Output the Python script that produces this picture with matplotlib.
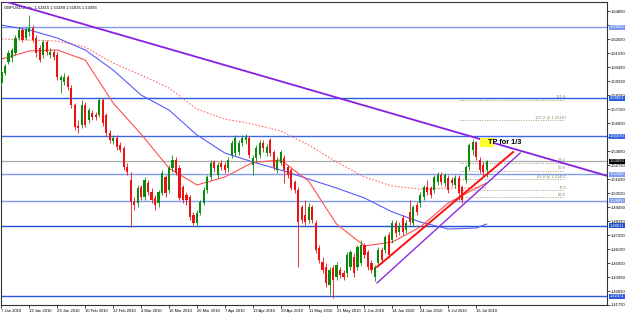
import matplotlib
matplotlib.use("Agg")
import matplotlib.pyplot as plt
import numpy as np

# GBPUSD daily bars, 7 Jan 2010 .. 21 Jul 2010 (one bar per weekday)
date_labels = ["7 Jan 2010", "19 Jan 2010", "29 Jan 2010", "10 Feb 2010", "22 Feb 2010",
               "4 Mar 2010", "16 Mar 2010", "26 Mar 2010", "7 Apr 2010", "19 Apr 2010",
               "29 Apr 2010", "11 May 2010", "21 May 2010", "2 Jun 2010", "14 Jun 2010",
               "24 Jun 2010", "6 Jul 2010", "16 Jul 2010"]
label_bars = [0, 8, 16, 24, 32, 40, 48, 56, 64, 72, 80, 88, 96, 104, 112, 120, 128, 136]

opens = [1.5923, 1.6002, 1.6088, 1.6120, 1.6159, 1.6277, 1.6340, 1.6277, 1.6324, 1.6355,
         1.6277, 1.6198, 1.6143, 1.6245, 1.6143, 1.6167, 1.6143, 1.5947, 1.5931, 1.5970,
         1.5884, 1.5750, 1.5585, 1.5593, 1.5750, 1.5633, 1.5688, 1.5672, 1.5672, 1.5790,
         1.5672, 1.5530, 1.5467, 1.5491, 1.5436, 1.5412, 1.5263, 1.5161, 1.4988, 1.4980,
         1.5106, 1.5028, 1.5138, 1.5067, 1.5020, 1.4980, 1.5059, 1.5185, 1.5083, 1.5255,
         1.5318, 1.5255, 1.5106, 1.5043, 1.5028, 1.4886, 1.4823, 1.4902, 1.4980, 1.5083,
         1.5185, 1.5303, 1.5200, 1.5295, 1.5279, 1.5255, 1.5358, 1.5373, 1.5381, 1.5452,
         1.5475, 1.5491, 1.5279, 1.5334, 1.5358, 1.5452, 1.5373, 1.5475, 1.5381, 1.5240,
         1.5295, 1.5334, 1.5263, 1.5240, 1.5145, 1.5083, 1.4949, 1.4886, 1.4847, 1.4949,
         1.4823, 1.4627, 1.4517, 1.4478, 1.4336, 1.4470, 1.4399, 1.4454, 1.4430, 1.4430,
         1.4478, 1.4556, 1.4478, 1.4509, 1.4650, 1.4595, 1.4509, 1.4399, 1.4509, 1.4611,
         1.4611, 1.4729, 1.4690, 1.4823, 1.4753, 1.4862, 1.4768, 1.4910, 1.4823, 1.4965,
         1.4980, 1.5028, 1.5106, 1.5098, 1.5083, 1.5145, 1.5200, 1.5138, 1.5177, 1.5161,
         1.5122, 1.5177, 1.5106, 1.5161, 1.5263, 1.5397, 1.5460, 1.5318, 1.5279, 1.52415]
highs = [1.6041, 1.6073, 1.6183, 1.6198, 1.6300, 1.6363, 1.6355, 1.6363, 1.6458, 1.6379,
         1.6300, 1.6222, 1.6261, 1.6261, 1.6198, 1.6183, 1.6167, 1.5986, 1.6002, 1.5986,
         1.5908, 1.5766, 1.5633, 1.5790, 1.5774, 1.5727, 1.5711, 1.5695, 1.5805, 1.5805,
         1.5688, 1.5554, 1.5515, 1.5515, 1.5460, 1.5428, 1.5295, 1.5224, 1.5028, 1.5122,
         1.5122, 1.5185, 1.5161, 1.5098, 1.5043, 1.5083, 1.5240, 1.5200, 1.5279, 1.5358,
         1.5342, 1.5279, 1.5122, 1.5067, 1.5043, 1.4910, 1.4925, 1.5004, 1.5106, 1.5200,
         1.5318, 1.5318, 1.5303, 1.5318, 1.5303, 1.5342, 1.5475, 1.5515, 1.5475, 1.5515,
         1.5522, 1.5507, 1.5358, 1.5436, 1.5475, 1.5475, 1.5444, 1.5491, 1.5397, 1.5342,
         1.5397, 1.5358, 1.5279, 1.5255, 1.5161, 1.5106, 1.4965, 1.5004, 1.4980, 1.4965,
         1.4847, 1.4650, 1.4556, 1.4509, 1.4478, 1.4493, 1.4517, 1.4478, 1.4454, 1.4595,
         1.4611, 1.4587, 1.4650, 1.4690, 1.4666, 1.4611, 1.4533, 1.4493, 1.4635, 1.4635,
         1.4729, 1.4753, 1.4847, 1.4847, 1.4831, 1.4886, 1.4847, 1.5004, 1.4965, 1.4988,
         1.5067, 1.5122, 1.5161, 1.5114, 1.5200, 1.5224, 1.5224, 1.5216, 1.5200, 1.5185,
         1.5200, 1.5200, 1.5122, 1.5279, 1.5452, 1.5483, 1.5467, 1.5342, 1.5303, 1.53189]
lows = [1.5900, 1.5986, 1.6073, 1.6088, 1.6143, 1.6261, 1.6245, 1.6261, 1.6292, 1.6245,
        1.6128, 1.6088, 1.6120, 1.6143, 1.6120, 1.6104, 1.5947, 1.5845, 1.5908, 1.5868,
        1.5727, 1.5554, 1.5530, 1.5570, 1.5578, 1.5609, 1.5633, 1.5633, 1.5656, 1.5585,
        1.5507, 1.5452, 1.5444, 1.5397, 1.5381, 1.5240, 1.5200, 1.4792, 1.4925, 1.4949,
        1.5004, 1.5004, 1.5043, 1.4980, 1.4925, 1.4949, 1.5043, 1.5028, 1.5059, 1.5224,
        1.5200, 1.5004, 1.4980, 1.4965, 1.4847, 1.4808, 1.4800, 1.4886, 1.4965, 1.5059,
        1.5161, 1.5224, 1.5177, 1.5240, 1.5216, 1.5224, 1.5334, 1.5350, 1.5358, 1.5428,
        1.5444, 1.5334, 1.5200, 1.5303, 1.5334, 1.5381, 1.5350, 1.5350, 1.5240, 1.5216,
        1.5279, 1.5138, 1.5177, 1.5083, 1.5059, 1.4478, 1.4823, 1.4808, 1.4823, 1.4823,
        1.4587, 1.4509, 1.4430, 1.4320, 1.4258, 1.4234, 1.4375, 1.4391, 1.4375, 1.4399,
        1.4454, 1.4399, 1.4454, 1.4493, 1.4548, 1.4454, 1.4430, 1.4368, 1.4493, 1.4509,
        1.4587, 1.4548, 1.4666, 1.4713, 1.4729, 1.4729, 1.4745, 1.4808, 1.4800, 1.4886,
        1.4949, 1.5004, 1.5043, 1.5020, 1.5059, 1.5122, 1.5122, 1.5114, 1.5059, 1.5114,
        1.5098, 1.5004, 1.4980, 1.5138, 1.5240, 1.5358, 1.5318, 1.5216, 1.5185, 1.51836]
closes = [1.6010, 1.6057, 1.6159, 1.6183, 1.6277, 1.6340, 1.6261, 1.6340, 1.6355, 1.6261,
          1.6159, 1.6104, 1.6245, 1.6167, 1.6167, 1.6128, 1.5970, 1.5970, 1.5970, 1.5892,
          1.5750, 1.5578, 1.5570, 1.5750, 1.5593, 1.5711, 1.5656, 1.5656, 1.5790, 1.5609,
          1.5530, 1.5475, 1.5491, 1.5420, 1.5397, 1.5263, 1.5224, 1.4988, 1.4965, 1.5098,
          1.5028, 1.5161, 1.5067, 1.5004, 1.4965, 1.5067, 1.5216, 1.5059, 1.5255, 1.5318,
          1.5216, 1.5020, 1.5004, 1.5004, 1.4870, 1.4823, 1.4902, 1.4988, 1.5083, 1.5185,
          1.5295, 1.5255, 1.5279, 1.5263, 1.5240, 1.5318, 1.5452, 1.5491, 1.5452, 1.5491,
          1.5499, 1.5358, 1.5334, 1.5412, 1.5452, 1.5412, 1.5420, 1.5373, 1.5263, 1.5318,
          1.5381, 1.5240, 1.5200, 1.5098, 1.5083, 1.4831, 1.4847, 1.4831, 1.4949, 1.4847,
          1.4611, 1.4533, 1.4454, 1.4352, 1.4454, 1.4375, 1.4493, 1.4415, 1.4399, 1.4572,
          1.4595, 1.4430, 1.4635, 1.4650, 1.4572, 1.4478, 1.4454, 1.4478, 1.4611, 1.4533,
          1.4713, 1.4572, 1.4823, 1.4745, 1.4800, 1.4753, 1.4823, 1.4831, 1.4949, 1.4910,
          1.5043, 1.5106, 1.5067, 1.5043, 1.5185, 1.5200, 1.5145, 1.5200, 1.5083, 1.5138,
          1.5177, 1.5059, 1.5004, 1.5263, 1.5436, 1.5460, 1.5342, 1.5240, 1.5224, 1.53093]

# moving averages, every 8th bar
ma_bars = [0, 8, 16, 24, 32, 40, 48, 56, 64, 72, 80, 88, 96, 104, 112, 120, 128, 136, 139]
ma_fast = [1.6112, 1.6175, 1.6183, 1.6104, 1.5766, 1.5522, 1.5255, 1.5122, 1.5185, 1.5299,
           1.5318, 1.5153, 1.4815, 1.4643, 1.4674, 1.4792, 1.4980, 1.5098, 1.5138]
ma_mid = [1.6379, 1.6340, 1.6277, 1.6183, 1.6025, 1.5829, 1.5711, 1.5515, 1.5373, 1.5303,
          1.5240, 1.5169, 1.5098, 1.5020, 1.4910, 1.4831, 1.4776, 1.4784, 1.4815]
ma_slow = [1.6269, 1.6261, 1.6253, 1.6206, 1.6080, 1.5986, 1.5884, 1.5719, 1.5640, 1.5601,
           1.5546, 1.5436, 1.5303, 1.5185, 1.5114, 1.5090, 1.5098, 1.5098, 1.5098]

# horizontal levels
levels = [1.63620, 1.58051, 1.55070, 1.52080, 1.50000, 1.48011, 1.42471]
level_colors = ["#7d9cf0", "#2a5be0", "#3a68e4", "#7d9cf0", "#7d9cf0", "#1f4fd0", "#2a5be0"]
bid = 1.53093

# trend lines (bar index, price)
down_line = ([8, 135], [1.6509, 1.5500])
red_up = ([107.6, 146.6], [1.4478, 1.5381])
purple_up = ([107.6, 148.6], [1.4352, 1.5373])

# fibonacci levels
fib_labels = ["161.8", "127.2 @ 1.56107", "38.2", "50.0", "61.8 @ 1.51457", "78.6", "88.6"]
fib_prices = [1.5790, 1.5633, 1.5295, 1.5232, 1.5169, 1.5079, 1.5026]
fib_span = (131.4, 161.0)

y_ticks = [1.41790 + 0.011 * k for k in range(22)]

small = ["Liberation Sans", "DejaVu Sans"]
fs = 3.0

fig = plt.figure(figsize=(6.25, 3.13), dpi=100)
ax = fig.add_axes([1 / 625, 8 / 313, 606 / 625, 303 / 313])
ax.set_xlim(-0.14, 173.5)
ax.set_ylim(1.4179, 1.6560)

for lvl, col in zip(levels, level_colors):
    ax.axhline(lvl, color=col, lw=1.0, zorder=1)
ax.axhline(bid, color="#a8a8a8", lw=0.9, zorder=1)

ax.plot(ma_bars, ma_slow, color="#ff7070", lw=0.8, ls=(0, (1.5, 1.5)), zorder=2)
ax.plot(ma_bars, ma_mid, color="#5a5aff", lw=0.8, zorder=2)
ax.plot(ma_bars, ma_fast, color="#ff5050", lw=0.8, zorder=2)

x = np.arange(len(closes))
o = np.array(opens)
c = np.array(closes)
up = c >= o
cols = np.where(up, "#0a8a0a", "#ee1111")
ax.vlines(x, lows, highs, colors=cols, lw=0.6, zorder=3)
body_h = np.maximum(np.abs(c - o), 0.0004)
ax.bar(x, body_h, bottom=np.minimum(o, c), width=0.62, color=cols, lw=0, zorder=4)

# down trend line extended across the chart
k = (down_line[1][1] - down_line[1][0]) / (down_line[0][1] - down_line[0][0])
xs = np.array([-1, 175])
ax.plot(xs, down_line[1][0] + k * (xs - down_line[0][0]), color="#8a1ee0", lw=1.3, zorder=5)
ax.plot(red_up[0], red_up[1], color="#ff1010", lw=1.4, zorder=5)
ax.plot(purple_up[0], purple_up[1], color="#8a2be2", lw=1.0, zorder=5)

for lab, p in zip(fib_labels, fib_prices):
    ax.plot(fib_span, [p, p], color="#a0a078", lw=0.7, ls=(0, (1, 1.5)), zorder=2)
    ax.text(fib_span[1] + 0.8, p + 0.0004, lab, fontsize=3.0, color="#8c8c60",
            family=small, ha="right", va="bottom", zorder=6)

# take-profit note
ax.add_patch(plt.Rectangle((137.2, 1.5420), 4.0, 0.0071, color="#ffff30", lw=0, zorder=6))
ax.text(139.5, 1.5458, "TP for 1/3", fontsize=5.3, fontweight="bold", color="black",
        family=small, ha="left", va="center", zorder=7)

ax.text(0.005, 0.988, "GBPUSD,Daily  1.52415 1.53189 1.51836 1.53093", transform=ax.transAxes,
        fontsize=fs, family=small, color="black", ha="left", va="top")

# tick labels hidden where a level tag sits on top of them
tag_prices = levels + [bid]
tick_text = []
for v in y_ticks:
    covered = any(abs(v - t) < 0.002 for t in tag_prices)
    tick_text.append("" if covered else f"{v:.5f}")

ax.yaxis.tick_right()
ax.set_yticks(y_ticks)
ax.set_yticklabels(tick_text, family=small)
ax.tick_params(axis="y", labelsize=fs, length=2, width=0.5, pad=0.6, colors="black")
ax.set_xticks(label_bars)
ax.set_xticklabels(date_labels, ha="left", family=small)
ax.tick_params(axis="x", labelsize=fs, length=2, width=0.5, pad=1)

for lvl, col in zip(levels, level_colors):
    ax.annotate(f"{lvl:.5f}", xy=(1.0, lvl), xycoords=("axes fraction", "data"),
                xytext=(1.9, 0), textcoords="offset points", fontsize=fs, family=small,
                color="white", va="center", ha="left", annotation_clip=False,
                bbox=dict(boxstyle="square,pad=0.12", fc=col, ec="none"))
ax.annotate(f"{bid:.5f}", xy=(1.0, bid), xycoords=("axes fraction", "data"),
            xytext=(1.9, 0), textcoords="offset points", fontsize=fs, family=small,
            color="white", va="center", ha="left", annotation_clip=False,
            bbox=dict(boxstyle="square,pad=0.12", fc="black", ec="none"))

for s in ax.spines.values():
    s.set_linewidth(0.8)
    s.set_color("#333333")

fig.savefig("out.png", dpi=100)
